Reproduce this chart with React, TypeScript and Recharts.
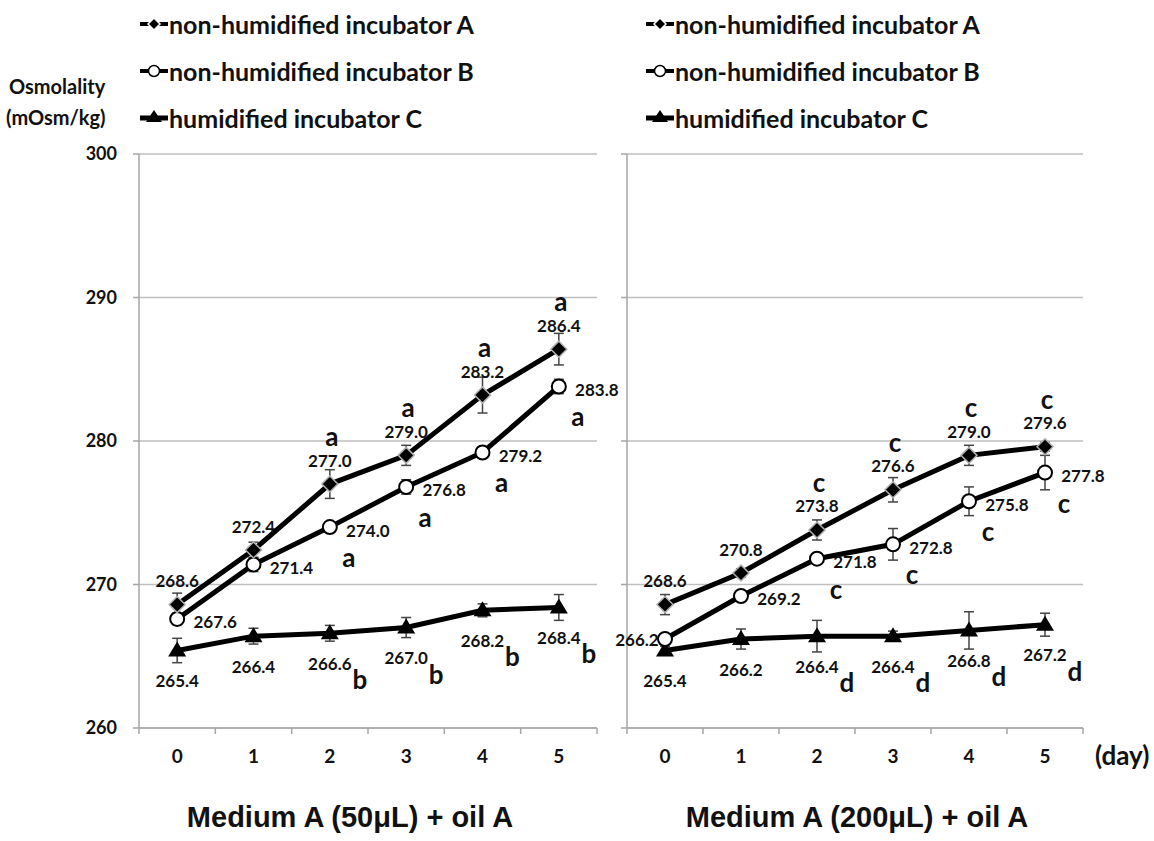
import React from 'react';
import {
  LineChart,
  Line,
  XAxis,
  YAxis,
  CartesianGrid,
  ErrorBar,
} from 'recharts';

// days on the x axis
const days = [0, 1, 2, 3, 4, 5];
const yTicks = [260, 270, 280, 290, 300];

// Medium A (50uL) + oil A
const leftA = [268.6, 272.4, 277.0, 279.0, 283.2, 286.4];
const leftAErr = [0.8, 0.55, 1.0, 0.7, 1.25, 1.1];
const leftB = [267.6, 271.4, 274.0, 276.8, 279.2, 283.8];
const leftBErr = [0.4, 0.5, 0.3, 0.5, 0.35, 0.5];
const leftC = [265.4, 266.4, 266.6, 267.0, 268.2, 268.4];
const leftCErr = [0.85, 0.55, 0.55, 0.7, 0.45, 0.9];
const leftALetters = ['', '', 'a', 'a', 'a', 'a'];
const leftBLetters = ['', '', 'a', 'a', 'a', 'a'];
const leftCLetters = ['', '', 'b', 'b', 'b', 'b'];

// Medium A (200uL) + oil A
const rightA = [268.6, 270.8, 273.8, 276.6, 279.0, 279.6];
const rightAErr = [0.7, 0.3, 0.7, 0.85, 0.7, 0.3];
const rightB = [266.2, 269.2, 271.8, 272.8, 275.8, 277.8];
const rightBErr = [0.3, 0.3, 0.3, 1.1, 1.0, 1.2];
const rightC = [265.4, 266.2, 266.4, 266.4, 266.8, 267.2];
const rightCErr = [0.3, 0.7, 1.1, 0.35, 1.3, 0.8];
const rightALetters = ['', '', 'c', 'c', 'c', 'c'];
const rightBLetters = ['', '', 'c', 'c', 'c', 'c'];
const rightCLetters = ['', '', 'd', 'd', 'd', 'd'];

const legendNames = [
  'non-humidified incubator A',
  'non-humidified incubator B',
  'humidified incubator C',
];

const FONT = 'Lato, "Open Sans", sans-serif';
const GRID = '#bfbfbf';
const AXIS = '#a6a6a6';

// x ticks: labels on whole days, tick marks half way between
const xTicks = [...days.flatMap((d) => [d - 0.5, d]), days[days.length - 1] + 0.5];

function buildRows(a, aErr, b, bErr, c, cErr, aLet, bLet, cLet) {
  return days.map((d, i) => ({
    day: d,
    a: a[i],
    aErr: aErr[i],
    aLet: aLet[i],
    b: b[i],
    bErr: bErr[i],
    bLet: bLet[i],
    c: c[i],
    cErr: cErr[i],
    cLet: cLet[i],
  }));
}

const valueStyle = {
  fontFamily: FONT,
  fontWeight: 700,
  fontSize: 17,
  fill: '#111',
};
const letterStyle = {
  fontFamily: FONT,
  fontWeight: 700,
  fontSize: 26,
  fill: '#111',
};

function marker(kind: string, cx: number, cy: number) {
  if (kind === 'a') {
    return (
      <path
        d={`M${cx},${cy - 8}L${cx + 8},${cy}L${cx},${cy + 8}L${cx - 8},${cy}Z`}
        fill="#000"
        stroke="#b0b0b0"
        strokeWidth={1.5}
      />
    );
  }
  if (kind === 'b') {
    return <circle cx={cx} cy={cy} r={7} fill="#fff" stroke="#000" strokeWidth={2} />;
  }
  return (
    <path
      d={`M${cx},${cy - 9}L${cx + 9},${cy + 6}L${cx - 9},${cy + 6}Z`}
      fill="#000"
    />
  );
}

function makeDot(kind: string, firstLabelLeft = false) {
  return (props: any) => {
    const { cx, cy, index, payload } = props;
    if (cx == null || cy == null) return <g key={`d-${kind}-${index}`} />;
    const value = payload[kind].toFixed(1);
    const letter = payload[`${kind}Let`];
    let vx = cx;
    let vy = cy;
    let lx = cx;
    let ly = cy;
    if (kind === 'a') {
      vy = cy - 24;
      lx = cx + 2;
      ly = cy - 48;
    } else if (kind === 'b') {
      if (firstLabelLeft && index === 0) {
        vx = cx - 28;
      } else {
        vx = cx + 38;
        vy = cy + 3;
      }
      lx = cx + 19;
      ly = cy + 30;
    } else {
      vy = cy + 30;
      lx = cx + 30;
      ly = cy + 46;
    }
    return (
      <g key={`d-${kind}-${index}`}>
        {marker(kind, cx, cy)}
        <text x={vx} y={vy} textAnchor="middle" dominantBaseline="central" style={valueStyle}>
          {value}
        </text>
        {letter ? (
          <text x={lx} y={ly} textAnchor="middle" dominantBaseline="central" style={letterStyle}>
            {letter}
          </text>
        ) : null}
      </g>
    );
  };
}

const XTick = (props: any) => {
  const { x, y, payload } = props;
  const v = payload.value;
  if (Number.isInteger(v)) {
    return (
      <text
        x={x}
        y={y + 27}
        textAnchor="middle"
        dominantBaseline="central"
        style={{ fontFamily: FONT, fontWeight: 700, fontSize: 19, fill: '#111' }}
      >
        {v}
      </text>
    );
  }
  return <line x1={x} x2={x} y1={y} y2={y + 6} stroke={AXIS} strokeWidth={1.5} />;
};

const NoTick = () => <g />;

function Panel({ rows, left, width, yWidth, marginRight, showYLabels, firstBLeft }) {
  return (
    <div style={{ position: 'absolute', left, top: 0 }}>
      <LineChart
        width={width}
        height={841}
        data={rows}
        margin={{ top: 154, right: marginRight, bottom: 73, left: 0 }}
      >
        <CartesianGrid vertical={false} stroke={GRID} strokeWidth={1.5} />
        <XAxis
          dataKey="day"
          type="number"
          domain={[-0.5, 5.5]}
          ticks={xTicks}
          interval={0}
          tickLine={false}
          tickSize={0}
          tickMargin={0}
          height={40}
          axisLine={{ stroke: AXIS, strokeWidth: 1.5 }}
          tick={<XTick />}
        />
        <YAxis
          domain={[260, 300]}
          ticks={yTicks}
          interval={0}
          width={yWidth}
          tickSize={6}
          tickMargin={16}
          tickLine={{ stroke: AXIS, strokeWidth: 1.5 }}
          axisLine={{ stroke: AXIS, strokeWidth: 1.5 }}
          tick={
            showYLabels
              ? { fontFamily: FONT, fontWeight: 700, fontSize: 18, fill: '#111' }
              : NoTick
          }
        />
        <Line
          dataKey="c"
          stroke="#000"
          strokeWidth={5}
          dot={makeDot('c')}
          activeDot={false}
          isAnimationActive={false}
        >
          <ErrorBar dataKey="cErr" direction="y" width={5} stroke="#444" strokeWidth={1.5} />
        </Line>
        <Line
          dataKey="b"
          stroke="#000"
          strokeWidth={5}
          dot={makeDot('b', firstBLeft)}
          activeDot={false}
          isAnimationActive={false}
        >
          <ErrorBar dataKey="bErr" direction="y" width={5} stroke="#444" strokeWidth={1.5} />
        </Line>
        <Line
          dataKey="a"
          stroke="#000"
          strokeWidth={5}
          dot={makeDot('a')}
          activeDot={false}
          isAnimationActive={false}
        >
          <ErrorBar dataKey="aErr" direction="y" width={5} stroke="#444" strokeWidth={1.5} />
        </Line>
      </LineChart>
    </div>
  );
}

function LegendBlock({ left }) {
  const kinds = ['a', 'b', 'c'];
  const centers = [24, 71, 118];
  return (
    <>
      {kinds.map((k, i) => (
        <div
          key={k}
          style={{
            position: 'absolute',
            left,
            top: centers[i] - 18,
            height: 36,
            display: 'flex',
            alignItems: 'center',
            whiteSpace: 'nowrap',
          }}
        >
          <svg width={30} height={36} style={{ display: 'block' }}>
            <line x1={1} x2={29} y1={18} y2={18} stroke="#000" strokeWidth={k === 'c' ? 5 : 4} />
            {k === 'a' ? (
              <path d="M15,12L21,18L15,24L9,18Z" fill="#000" stroke="#fff" strokeWidth={1.5} />
            ) : k === 'b' ? (
              <circle cx={15} cy={18} r={5.5} fill="#fff" stroke="#000" strokeWidth={1.5} />
            ) : (
              <path d="M15,10L23,22L7,22Z" fill="#000" />
            )}
          </svg>
          <span
            style={{
              fontFamily: FONT,
              fontWeight: 700,
              fontSize: 25,
              color: '#111',
              marginLeft: 0,
            }}
          >
            {legendNames[i]}
          </span>
        </div>
      ))}
    </>
  );
}

export default function App() {
  const leftRows = buildRows(
    leftA, leftAErr, leftB, leftBErr, leftC, leftCErr,
    leftALetters, leftBLetters, leftCLetters
  );
  const rightRows = buildRows(
    rightA, rightAErr, rightB, rightBErr, rightC, rightCErr,
    rightALetters, rightBLetters, rightCLetters
  );
  const sideText = {
    position: 'absolute' as const,
    fontFamily: FONT,
    fontWeight: 700,
    fontSize: 20,
    color: '#111',
    whiteSpace: 'nowrap' as const,
  };
  const titleText = {
    position: 'absolute' as const,
    top: 801,
    fontFamily: '"Liberation Sans", Arial, sans-serif',
    fontWeight: 700,
    fontSize: 29,
    color: '#111',
    whiteSpace: 'nowrap' as const,
    transform: 'translateX(-50%)',
  };
  return (
    <div
      style={{
        position: 'absolute',
        left: 0,
        top: 0,
        width: 1154,
        height: 841,
        background: '#fff',
        overflow: 'hidden',
      }}
    >
      <Panel
        rows={leftRows}
        left={0}
        width={640}
        yWidth={139}
        marginRight={43}
        showYLabels
        firstBLeft={false}
      />
      <Panel
        rows={rightRows}
        left={600}
        width={554}
        yWidth={27}
        marginRight={71}
        showYLabels={false}
        firstBLeft
      />
      <LegendBlock left={139} />
      <LegendBlock left={645} />
      <div style={{ ...sideText, left: 9, top: 74 }}>Osmolality</div>
      <div style={{ ...sideText, left: 6, top: 105 }}>(mOsm/kg)</div>
      <div style={{ ...sideText, left: 1095, top: 739, fontSize: 26 }}>(day)</div>
      <div style={{ ...titleText, left: 350 }}>Medium A (50μL) + oil A</div>
      <div style={{ ...titleText, left: 857 }}>Medium A (200μL) + oil A</div>
    </div>
  );
}
